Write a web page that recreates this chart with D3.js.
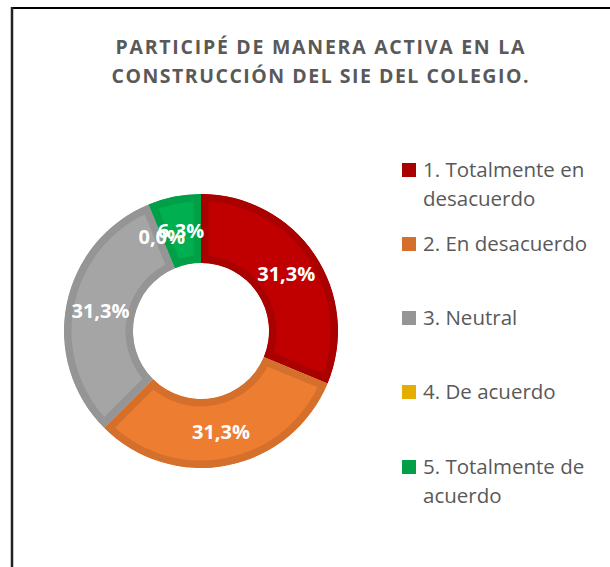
<!DOCTYPE html>
<html>
<head>
<script src="https://cdn.jsdelivr.net/npm/d3@7"></script>
<style>
  body { margin: 0; background: #fff; overflow: hidden; }
</style>
</head>
<body>
<div id="canvas"></div>
<script type="text/javascript">

var categories = ["1. Totalmente en desacuerdo", "2. En desacuerdo", "3. Neutral", "4. De acuerdo", "5. Totalmente de acuerdo"];
var counts = [5, 5, 5, 0, 1];
var fills = ["#C00000", "#ED7D31", "#A5A5A5", "#FFC000", "#00B050"];
var edges = ["#A90000", "#D5702C", "#959595", "#E5AD00", "#009F48"];
var titleLines = ["PARTICIPÉ DE MANERA ACTIVA EN LA", "CONSTRUCCIÓN DEL SIE DEL COLEGIO."];
// legend text wrapped as in the picture
var legendLines = [["1. Totalmente en", "desacuerdo"], ["2. En desacuerdo"], ["3. Neutral"], ["4. De acuerdo"], ["5. Totalmente de", "acuerdo"]];

var width = 610, height = 567;
var font = "'Open Sans', 'Noto Sans', sans-serif";

var svg = d3.select("#canvas").append("svg")
    .attr("width", width)
    .attr("height", height);

// chart frame (only top and left edges are visible)
svg.append("line").attr("x1", 11).attr("y1", 8).attr("x2", width).attr("y2", 8)
    .style("stroke", "#000").style("stroke-width", 2);
svg.append("line").attr("x1", 12).attr("y1", 7).attr("x2", 12).attr("y2", height)
    .style("stroke", "#222").style("stroke-width", 2.5);

// title
svg.selectAll("text.title")
    .data(titleLines)
    .enter().append("text")
    .attr("class", "title")
    .attr("x", 320)
    .attr("y", function (d, i) { return 54 + i * 29; })
    .attr("text-anchor", "middle")
    .attr("textLength", function (d, i) { return i == 0 ? 409 : 417; })
    .attr("lengthAdjust", "spacing")
    .attr("font-family", font)
    .attr("font-weight", "bold")
    .attr("font-size", "19.5px")
    .attr("fill", "#595959")
    .text(function (d) { return d; });

// donut
var cx = 201, cy = 331, rOuter = 137, rInner = 68;
var locale = d3.formatLocale({decimal: ",", thousands: ".", grouping: [3], currency: ["", ""]});
var pct = locale.format(".1%");
var total = d3.sum(counts);

var pie = d3.pie().sort(null).value(function (d) { return d; });
var arc = d3.arc().innerRadius(rInner).outerRadius(rOuter);
var slices = pie(counts);

var g = svg.append("g").attr("transform", "translate(" + cx + "," + cy + ")");

var defs = svg.append("defs");
slices.forEach(function (d, i) {
    defs.append("clipPath").attr("id", "clip" + i)
        .append("path").attr("d", arc(d));
});

g.selectAll("path.slice")
    .data(slices)
    .enter().append("path")
    .attr("class", "slice")
    .attr("d", arc)
    .attr("clip-path", function (d, i) { return "url(#clip" + i + ")"; })
    .style("fill", function (d, i) { return fills[i]; })
    .style("stroke", function (d, i) { return edges[i]; })
    .style("stroke-width", function (d) { return d.value > 0 ? 15 : 0; });

g.selectAll("text.lbl")
    .data(slices)
    .enter().append("text")
    .attr("class", "lbl")
    .attr("transform", function (d) { return "translate(" + arc.centroid(d) + ")"; })
    .attr("dy", "0.36em")
    .attr("text-anchor", "middle")
    .attr("font-family", font)
    .attr("font-weight", "bold")
    .attr("font-size", "20px")
    .attr("fill", "#fff")
    .text(function (d) { return pct(d.value / total); });

// legend
var legendY = [170, 244, 318, 392, 467];
var legend = svg.selectAll("g.legend")
    .data(categories)
    .enter().append("g")
    .attr("class", "legend")
    .attr("transform", function (d, i) { return "translate(402," + legendY[i] + ")"; });

legend.append("rect")
    .attr("x", 0).attr("y", -7)
    .attr("width", 14).attr("height", 14)
    .style("fill", function (d, i) { return edges[i]; });

legend.append("text")
    .attr("x", 21)
    .attr("font-family", font)
    .attr("font-size", "20.5px")
    .attr("fill", "#595959")
    .selectAll("tspan")
    .data(function (d, i) { return legendLines[i]; })
    .enter().append("tspan")
    .attr("x", 21)
    .attr("y", function (d, j) { return j * 29; })
    .attr("dy", "0.35em")
    .text(function (d) { return d; });

</script>
</body>
</html>
